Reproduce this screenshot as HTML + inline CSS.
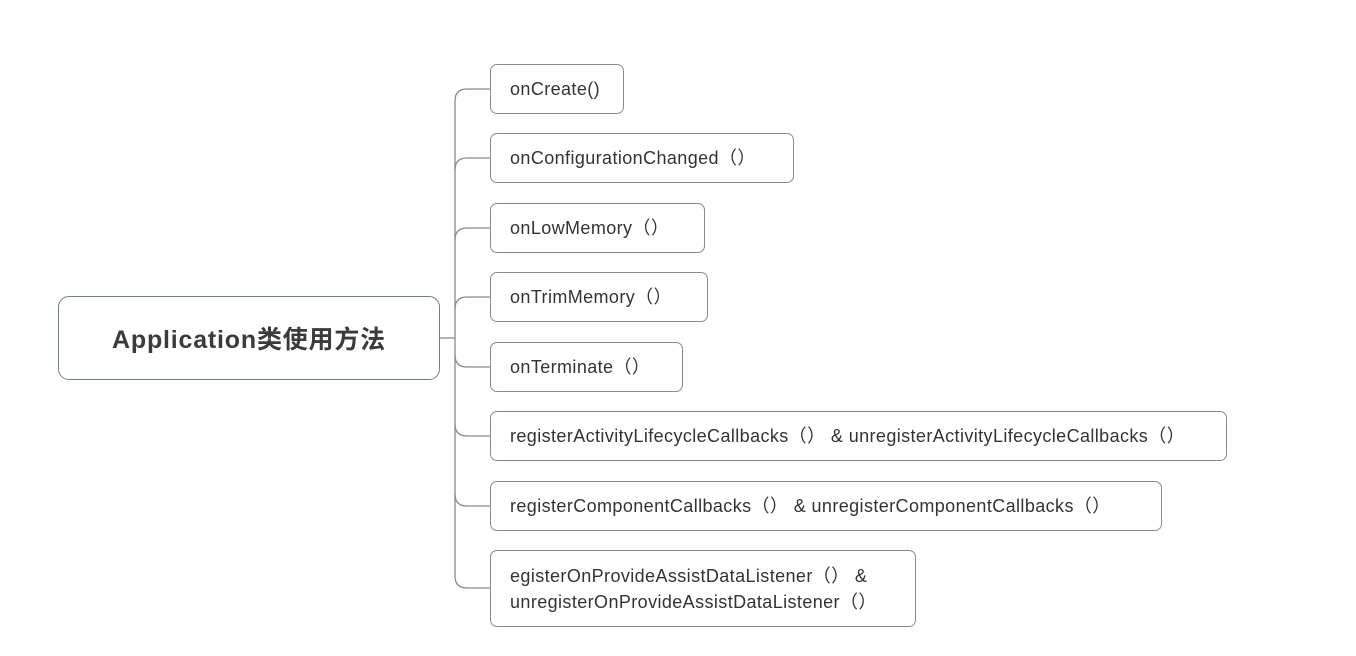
<!DOCTYPE html>
<html><head><meta charset="utf-8"><style>
body{margin:0;width:1356px;height:656px;background:#fff;position:relative;overflow:hidden;font-family:"Liberation Sans","Noto Sans CJK SC",sans-serif;}
.c{position:absolute;left:58px;top:296px;width:380px;height:82px;border:1.5px solid #6e7d8c;border-radius:11px;box-sizing:content-box;display:flex;align-items:center;justify-content:center;font-weight:bold;font-size:25px;letter-spacing:0.8px;color:#3b3b3b;}
.n{position:absolute;left:490px;border:1.3px solid #8a8a8a;border-radius:7px;box-sizing:border-box;font-size:18px;letter-spacing:0.4px;color:#333;padding:0 0 0 19px;display:flex;align-items:center;white-space:nowrap;line-height:26px;}
</style></head><body>
<svg width="1356" height="656" style="position:absolute;left:0;top:0">
<g fill="none" stroke="#8a8a8a" stroke-width="1.3">
<path d="M440 338 H455"/>
<path d="M490 89 H467 Q455 89 455 101 V576 Q455 588 467 588 H490"/>
<path d="M490 158 H467 Q455 158 455 170"/>
<path d="M490 228 H467 Q455 228 455 240"/>
<path d="M490 297 H467 Q455 297 455 309"/>
<path d="M490 367 H467 Q455 367 455 355"/>
<path d="M490 436 H467 Q455 436 455 424"/>
<path d="M490 506 H467 Q455 506 455 494"/>
</g></svg>
<div class="c">Application类使用方法</div>
<div class="n" style="top:64px;width:134px;height:50px">onCreate()</div>
<div class="n" style="top:133px;width:304px;height:50px">onConfigurationChanged（）</div>
<div class="n" style="top:203px;width:215px;height:50px">onLowMemory（）</div>
<div class="n" style="top:272px;width:218px;height:50px">onTrimMemory（）</div>
<div class="n" style="top:342px;width:193px;height:50px">onTerminate（）</div>
<div class="n" style="top:411px;width:737px;height:50px">registerActivityLifecycleCallbacks（） &amp; unregisterActivityLifecycleCallbacks（）</div>
<div class="n" style="top:481px;width:672px;height:50px">registerComponentCallbacks（） &amp; unregisterComponentCallbacks（）</div>
<div class="n" style="top:550px;width:426px;height:77px;white-space:normal">egisterOnProvideAssistDataListener（） &amp;<br>unregisterOnProvideAssistDataListener（）</div>
</body></html>
